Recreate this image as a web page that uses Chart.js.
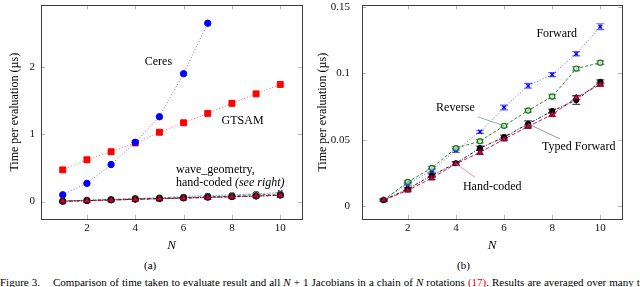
<!DOCTYPE html>
<html>
<head>
<meta charset="utf-8">
<script src="https://cdn.jsdelivr.net/npm/chart.js@4.4.0/dist/chart.umd.min.js"></script>
<style>
  html, body { margin: 0; padding: 0; background: #fff; width: 640px; height: 287px; overflow: hidden; font-family: "Liberation Serif", serif; color: #000; }
  .pane { position: absolute; top: 0; height: 254px; }
  #paneA { left: 0; width: 310px; }
  #paneB { left: 310px; width: 330px; }
  .sub { position: absolute; top: 258px; font-size: 11px; line-height: 14px; }
  #caption { position: absolute; left: 0; top: 276px; width: 640px; font-size: 11px; line-height: 13px; word-spacing: 0.3px; white-space: nowrap; overflow: hidden; }
  #caption .fig { display: inline-block; width: 53px; }
  #caption i { font-style: italic; }
  .ref { color: #e00000; }
</style>
</head>
<body>
<div class="pane" id="paneA"><canvas id="chartA"></canvas></div>
<div class="pane" id="paneB"><canvas id="chartB"></canvas></div>
<div class="sub" style="left:144px">(a)</div>
<div class="sub" style="left:457px">(b)</div>
<div id="caption"><span class="fig">Figure 3.</span>Comparison of time taken to evaluate result and all <i>N</i> + 1 Jacobians in a chain of <i>N</i> rotations <span class="ref">(17)</span>. Results are averaged over many t</div>

<script>
// values, time per evaluation in microseconds
const nValues = [1, 2, 3, 4, 5, 6, 7, 8, 9, 10];
const ceres = [0.10, 0.27, 0.55, 0.88, 1.26, 1.90, 2.65];
const gtsam = [0.47, 0.62, 0.74, 0.87, 1.03, 1.17, 1.31, 1.46, 1.60, 1.74];

const forward = [0.0047, 0.0170, 0.0269, 0.0420, 0.0560, 0.0743, 0.0906, 0.0990, 0.1146, 0.1350];
const reverse = [0.0047, 0.0183, 0.0289, 0.0437, 0.0490, 0.0605, 0.0720, 0.0825, 0.1035, 0.1080];
const typedForward = [0.0047, 0.0131, 0.0232, 0.0324, 0.0437, 0.0520, 0.0620, 0.0716, 0.0798, 0.0936];
const handCoded = [0.0047, 0.0120, 0.0212, 0.0320, 0.0405, 0.0505, 0.0600, 0.0690, 0.0817, 0.0916];

// error bar half-heights (b)
const forwardErr = [0.0008, 0.0010, 0.0012, 0.0015, 0.0012, 0.0018, 0.0018, 0.0015, 0.0016, 0.0022];
const reverseErr = [0.0008, 0.0010, 0.0010, 0.0012, 0.0012, 0.0010, 0.0012, 0.0015, 0.0015, 0.0014];
const typedErr = [0.0008, 0.0010, 0.0012, 0.0012, 0.0015, 0.0015, 0.0022, 0.0015, 0.0032, 0.0015];
const handErr = [0.0008, 0.0010, 0.0012, 0.0012, 0.0015, 0.0012, 0.0012, 0.0015, 0.0015, 0.0013];

const xTicks = [2, 4, 6, 8, 10];
const yTicksA = [0, 1, 2];
const yTicksB = [0, 0.05, 0.1, 0.15];

const SERIF = '"Liberation Serif", "Times New Roman", serif';
const BLUE = '#0000ff', RED = '#ff0000', GREEN = '#1a7a1a', BLACK = '#000000', CRIMSON = '#cc0044';

const pts = (ys) => ys.map((y, i) => ({ x: nValues[i], y }));

function series(label, ys, o) {
  return Object.assign({
    label, data: pts(ys), showLine: true, fill: false,
    borderWidth: 0.9, pointBorderWidth: 1, pointRadius: 3
  }, o);
}

// draws frame, inner ticks, error bars and the inline labels
const figurePlugin = {
  id: 'figure',
  beforeDatasetsDraw(chart, args, opts) {
    const { ctx } = chart;
    const xs = chart.scales.x, ys = chart.scales.y;
    (opts.errors || []).forEach((e) => {
      const ds = chart.data.datasets[e.ds];
      ctx.save();
      ctx.strokeStyle = e.color;
      ctx.lineWidth = 1.2;
      ds.data.forEach((p, i) => {
        const px = xs.getPixelForValue(p.x);
        const top = ys.getPixelForValue(p.y + e.err[i]);
        const bot = ys.getPixelForValue(p.y - e.err[i]);
        ctx.beginPath();
        ctx.moveTo(px, top); ctx.lineTo(px, bot);
        ctx.moveTo(px - 4, top); ctx.lineTo(px + 4, top);
        ctx.moveTo(px - 4, bot); ctx.lineTo(px + 4, bot);
        ctx.stroke();
      });
      ctx.restore();
    });
  },
  afterDraw(chart, args, opts) {
    const { ctx, chartArea: a } = chart;
    const xs = chart.scales.x, ys = chart.scales.y;
    ctx.save();
    // inner tick marks on all four sides
    ctx.strokeStyle = '#b4b4b4';
    ctx.lineWidth = 1;
    ctx.beginPath();
    xTicks.forEach((v) => {
      const px = Math.round(xs.getPixelForValue(v)) + 0.5;
      ctx.moveTo(px, a.bottom); ctx.lineTo(px, a.bottom - 4);
      ctx.moveTo(px, a.top); ctx.lineTo(px, a.top + 4);
    });
    (opts.yTicks || []).forEach((v) => {
      const py = Math.round(ys.getPixelForValue(v)) + 0.5;
      ctx.moveTo(a.left, py); ctx.lineTo(a.left + 4, py);
      ctx.moveTo(a.right, py); ctx.lineTo(a.right - 4, py);
    });
    ctx.stroke();
    // frame
    ctx.strokeStyle = '#3c3c3c';
    ctx.lineWidth = 1;
    ctx.strokeRect(Math.round(a.left) + 0.5, Math.round(a.top) + 0.5, Math.round(a.right - a.left), Math.round(a.bottom - a.top));
    // pointer lines
    (opts.pointers || []).forEach((l) => {
      ctx.strokeStyle = l.color;
      ctx.lineWidth = 0.8;
      ctx.beginPath();
      ctx.moveTo(xs.getPixelForValue(l.from[0]), ys.getPixelForValue(l.from[1]));
      ctx.lineTo(xs.getPixelForValue(l.to[0]), ys.getPixelForValue(l.to[1]));
      ctx.stroke();
    });
    // labels
    ctx.fillStyle = '#000';
    ctx.textBaseline = 'middle';
    (opts.notes || []).forEach((n) => {
      const parts = n.parts || [{ t: n.text }];
      const fontOf = (p) => (p.italic ? 'italic ' : '') + '12px ' + SERIF;
      let w = 0;
      parts.forEach((p) => { ctx.font = fontOf(p); w += ctx.measureText(p.t).width; });
      let px = xs.getPixelForValue(n.x);
      if (n.align !== 'left') px -= w / 2;
      const py = ys.getPixelForValue(n.y);
      ctx.textAlign = 'left';
      parts.forEach((p) => {
        ctx.font = fontOf(p);
        ctx.fillText(p.t, px, py);
        px += ctx.measureText(p.t).width;
      });
    });
    ctx.restore();
  }
};

function makeScales(yMin, yMax, yTicks, yWidth, yTitlePad, yLabelPad, xHeight) {
  return {
    x: {
      type: 'linear', min: 0.1, max: 10.9,
      afterBuildTicks: (s) => { s.ticks = xTicks.map((v) => ({ value: v })); },
      afterFit: (s) => { s.height = xHeight; s.paddingLeft = 0; s.paddingRight = 0; },
      grid: { display: false, drawTicks: false }, border: { display: false },
      ticks: { padding: 3, color: '#111', font: { family: SERIF, size: 11 } },
      title: { display: true, text: 'N', color: '#000', padding: { top: 0, bottom: 1 }, font: { family: SERIF, size: 13, style: 'italic' } }
    },
    y: {
      type: 'linear', min: yMin, max: yMax,
      afterBuildTicks: (s) => { s.ticks = yTicks.map((v) => ({ value: v })); },
      afterFit: (s) => { s.width = yWidth; s.paddingTop = 0; s.paddingBottom = 0; },
      grid: { display: false, drawTicks: false }, border: { display: false },
      ticks: { padding: yLabelPad, color: '#111', font: { family: SERIF, size: 11 }, callback: (v) => String(v) },
      title: { display: true, text: 'Time per evaluation (µs)', color: '#000', padding: { top: yTitlePad, bottom: 0 }, font: { family: SERIF, size: 12 } }
    }
  };
}

function baseOptions(rightPad) {
  return {
    responsive: true, maintainAspectRatio: false, animation: false,
    layout: { padding: { left: 0, top: 3, right: rightPad, bottom: 0 } },
    plugins: { legend: { display: false }, tooltip: { enabled: false } }
  };
}

// near-zero group shared by both panels
function smallSeries(r) {
  return [
    series('Hand-coded', handCoded, { borderColor: CRIMSON, backgroundColor: CRIMSON, pointBorderColor: '#600020', borderDash: [4, 2], pointStyle: 'triangle', pointRadius: r + 0.8, order: 1 }),
    series('Typed Forward', typedForward, { borderColor: BLACK, backgroundColor: BLACK, borderDash: [3, 1.5, 1, 1.5], pointStyle: 'circle', pointRadius: r, order: 2 }),
    series('Reverse', reverse, { borderColor: GREEN, backgroundColor: 'rgba(255,255,255,0.6)', pointBorderColor: GREEN, borderDash: [3, 2], pointStyle: 'circle', pointRadius: r, pointBorderWidth: 1.2, order: 3 }),
    series('Forward', forward, { borderColor: '#4a4aff', backgroundColor: BLUE, pointBorderColor: BLUE, borderDash: [1, 2], pointStyle: 'crossRot', pointRadius: r, pointBorderWidth: 1.4, order: 4 })
  ];
}

Chart.register(figurePlugin);

new Chart(document.getElementById('chartA'), {
  type: 'scatter',
  data: {
    datasets: smallSeries(3).concat([
      series('Ceres', ceres, { borderColor: '#5a5aff', backgroundColor: BLUE, pointBorderColor: BLUE, borderDash: [1, 2], pointStyle: 'circle', pointRadius: 3.2, order: 5 }),
      series('GTSAM', gtsam, { borderColor: '#ff5a5a', backgroundColor: RED, pointBorderColor: RED, borderDash: [1, 2], pointStyle: 'rect', pointRadius: 4.2, order: 6 })
    ])
  },
  options: Object.assign(baseOptions(8), {
    scales: makeScales(-0.2598, 2.9145, yTicksA, 41, 7.8, 6, 35),
    plugins: {
      legend: { display: false }, tooltip: { enabled: false },
      figure: {
        yTicks: yTicksA,
        notes: [
          { text: 'Ceres', x: 4.96, y: 2.077 },
          { text: 'GTSAM', x: 8.44, y: 1.195 },
          { text: 'wave_geometry,', x: 5.685, y: 0.475, align: 'left' },
          { parts: [{ t: 'hand-coded ' }, { t: '(see right)', italic: true }], x: 5.685, y: 0.274, align: 'left' }
        ]
      }
    }
  })
});

new Chart(document.getElementById('chartB'), {
  type: 'scatter',
  data: { datasets: smallSeries(2.6) },
  options: Object.assign(baseOptions(18), {
    scales: makeScales(-0.0095, 0.151, yTicksB, 52, 5.8, 12, 35),
    plugins: {
      legend: { display: false }, tooltip: { enabled: false },
      figure: {
        yTicks: yTicksB,
        errors: [
          { ds: 0, err: handErr, color: 'rgba(204,0,68,0.7)' },
          { ds: 1, err: typedErr, color: 'rgba(0,0,0,0.7)' },
          { ds: 2, err: reverseErr, color: 'rgba(26,122,26,0.7)' },
          { ds: 3, err: forwardErr, color: 'rgba(0,0,255,0.6)' }
        ],
        pointers: [
          { from: [4.91, 0.0673], to: [6, reverse[5]], color: '#7f9f7f' },
          { from: [7, typedForward[6]], to: [8.32, 0.0507], color: '#808080' },
          { from: [4, handCoded[3]], to: [4.79, 0.0219], color: '#e77aa0' }
        ],
        notes: [
          { text: 'Forward', x: 8.19, y: 0.1294 },
          { text: 'Reverse', x: 3.98, y: 0.0737 },
          { text: 'Typed Forward', x: 9.1, y: 0.0447 },
          { text: 'Hand-coded', x: 5.51, y: 0.0143 }
        ]
      }
    }
  })
});
</script>
</body>
</html>
